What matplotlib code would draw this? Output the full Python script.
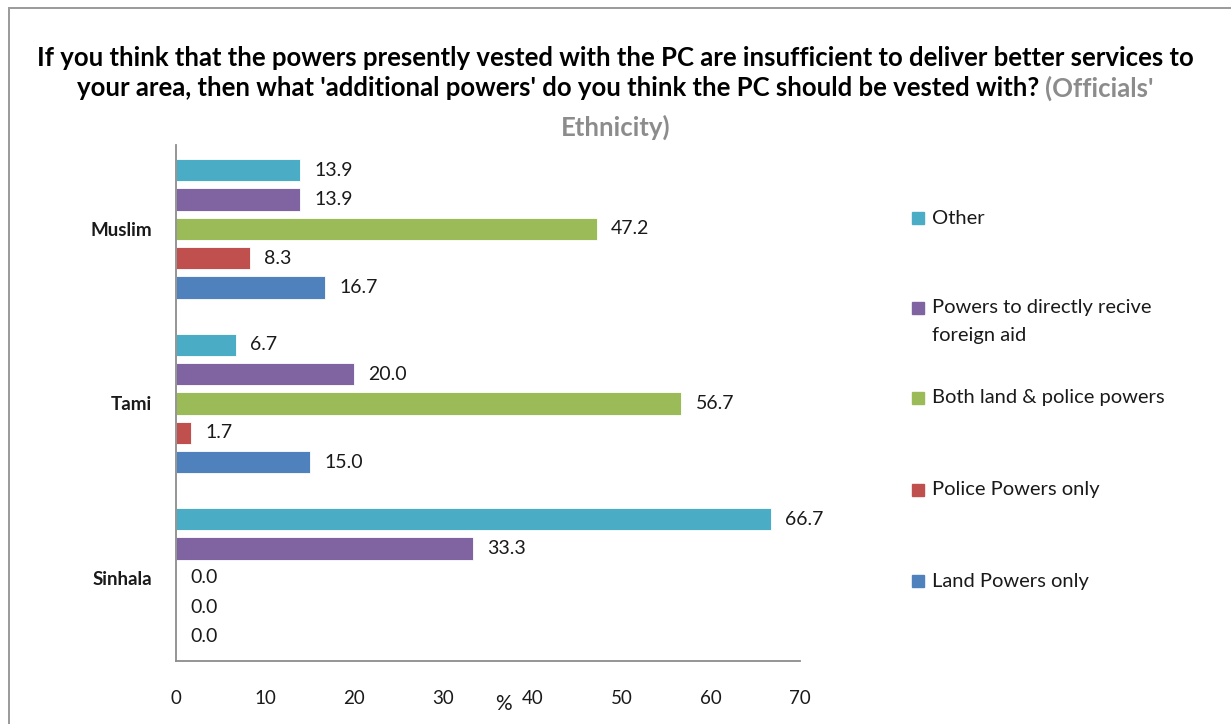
import matplotlib
matplotlib.use("Agg")
import matplotlib.pyplot as plt
from matplotlib.patches import Rectangle
import numpy as np

plt.rcParams['font.family'] = ['Lato', 'DejaVu Sans']

# Ethnic groups (bottom to top on the chart)
groups = ["Sinhala", "Tami", "Muslim"]

# Series, drawn from the bottom bar of each group upward
series_names = ["Land Powers only", "Police Powers only", "Both land & police powers",
                "Powers to directly recive\nforeign aid", "Other"]
series_colors = ["#4F81BD", "#C0504D", "#9BBB59", "#8064A2", "#4BACC6"]

land = [0.0, 15.0, 16.7]
police = [0.0, 1.7, 8.3]
both = [0.0, 56.7, 47.2]
foreign_aid = [33.3, 20.0, 13.9]
other = [66.7, 6.7, 13.9]
series_values = [land, police, both, foreign_aid, other]

x_ticks = [0, 10, 20, 30, 40, 50, 60, 70]

W, H = 1231, 724
fig = plt.figure(figsize=(W / 100, H / 100), dpi=100)

# outer chart-area frame (runs off the right and bottom edges)
fig.patches.append(Rectangle((9 / W, -0.02), 1.1, (H - 8) / H + 0.02,
                             transform=fig.transFigure, fill=False,
                             edgecolor="#9a9a9a", linewidth=1.4))

ax = fig.add_axes([176 / W, (H - 661) / H, (800 - 176) / W, (661 - 145) / H])

ypos = np.arange(len(groups))
slot = 0.168
bar_h = 0.128
for i, (vals, col) in enumerate(zip(series_values, series_colors)):
    offs = (i - 2) * slot
    bars = ax.barh(ypos + offs, vals, height=bar_h, color=col,
                   edgecolor="white", linewidth=0.6)
    for b, v in zip(bars, vals):
        ax.text(b.get_width() + 1.6, b.get_y() + b.get_height() / 2, f"{v:.1f}",
                va="center", ha="left", fontsize=14, color="#1a1a1a")

ax.set_xlim(0, 70)
ax.set_ylim(-0.476, 2.48)
ax.set_xticks(x_ticks)
ax.set_xticklabels([str(t) for t in x_ticks], fontsize=13.5, color="#1a1a1a")
ax.set_yticks(ypos)
ax.set_yticklabels(groups, fontsize=13.5, fontweight="bold", color="#1a1a1a")
ax.tick_params(axis="x", length=0, pad=21)
ax.tick_params(axis="y", length=0, pad=17)
for s in ["top", "right"]:
    ax.spines[s].set_visible(False)
for s in ["left", "bottom"]:
    ax.spines[s].set_color("#8c8c8c")
    ax.spines[s].set_linewidth(1.3)
ax.set_xlabel("%", fontsize=15, color="#1a1a1a")
ax.xaxis.set_label_coords((503 - 176) / (800 - 176), -0.064)

# legend drawn as swatches with labels
leg_y = [218, 308, 398, 490, 581]
leg_order = [4, 3, 2, 1, 0]
for yy, k in zip(leg_y, leg_order):
    fig.patches.append(Rectangle((912 / W, 1 - (yy + 6) / H), 12 / W, 12 / H,
                                 transform=fig.transFigure, color=series_colors[k]))
    lines = series_names[k].split("\n")
    for j, line in enumerate(lines):
        fig.text(932 / W, 1 - (yy + j * 28) / H, line, fontsize=14.5,
                 va="center", ha="left", color="#1a1a1a")

# title, with the grey subtitle running on from the second line
title_fs = 18.5
fig.text(0.5, 1 - 58 / H, "If you think that the powers presently vested with the PC are "
         "insufficient to deliver better services to", ha="center", va="center",
         fontsize=title_fs, fontweight="bold", color="black")
t_black = fig.text(0, 1 - 88 / H, "your area, then what 'additional powers' do you think "
                   "the PC should be vested with? ", ha="left", va="center",
                   fontsize=title_fs, fontweight="bold", color="black")
t_grey = fig.text(0, 1 - 88 / H, "(Officials'", ha="left", va="center",
                  fontsize=title_fs, fontweight="bold", color="#8c8c8c")
fig.text(0.5, 1 - 127 / H, "Ethnicity)", ha="center", va="center",
         fontsize=title_fs, fontweight="bold", color="#8c8c8c")

r = fig.canvas.get_renderer()
wb = t_black.get_window_extent(r).width
wg = t_grey.get_window_extent(r).width
start = (W / 2 - (wb + wg) / 2) / W
t_black.set_x(start)
t_grey.set_x(start + wb / W)

fig.savefig("out.png", dpi=100)
